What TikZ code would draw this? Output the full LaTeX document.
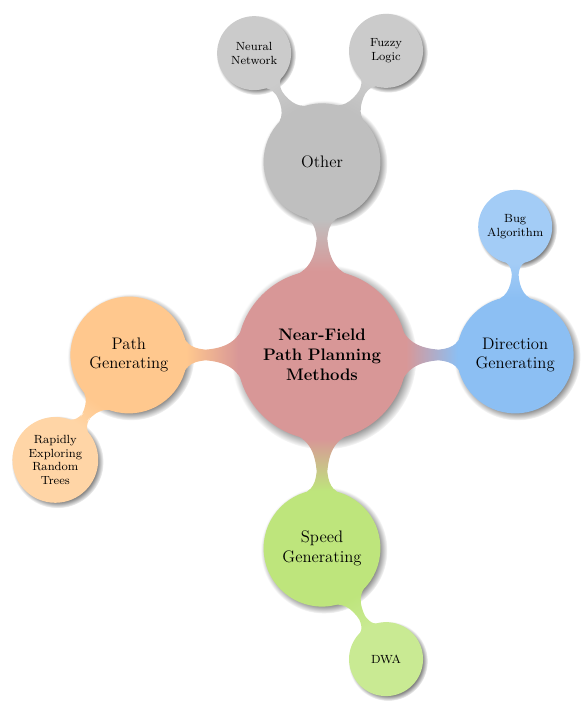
\documentclass[tikz,border=0pt]{standalone}
\usetikzlibrary{mindmap,shadows}
\definecolor{rootc}{HTML}{D89797}
\definecolor{otherc}{HTML}{BFBFBF}
\definecolor{otherl}{HTML}{CBCBCB}
\definecolor{dirc}{HTML}{8CBFF3}
\definecolor{dirl}{HTML}{A3CCF6}
\definecolor{pathc}{HTML}{FFC88E}
\definecolor{pathl}{HTML}{FFD5A6}
\definecolor{speedc}{HTML}{BEE57C}
\definecolor{speedl}{HTML}{C9EA93}
\begin{document}
\begin{tikzpicture}[mindmap,
  every node/.style={concept, circular drop shadow},
  rootnode/.style={minimum size=4cm, text width=3.6cm, align=center, font=\fontsize{11.3}{13.4}\selectfont\bfseries},
  lvone/.style={minimum size=2.74cm, text width=2.4cm, align=center, font=\fontsize{11.3}{13.4}\selectfont},
  lvtwo/.style={minimum size=1.72cm, text width=1.5cm, align=center, font=\fontsize{8}{9.3}\selectfont},
  level 1/.append style={level distance=4.6cm},
  level 2/.append style={level distance=3.05cm}]
\useasboundingbox (0,0) rectangle (14,-16.929);
\path[concept color=rootc] node (root) [rootnode] at (7.667,-8.452) {Near-Field\\Path Planning\\Methods}
  child[grow=90, concept color=otherc] {node (other) [lvone] {Other}
    child[grow=122, concept color=otherl] {node (nn) [lvtwo] {Neural\\Network}}
    child[grow=60, concept color=otherl] {node (fl) [lvtwo] {Fuzzy\\Logic}}
  }
  child[grow=0, concept color=dirc] {node (dir) [lvone] {Direction\\Generating}
    child[grow=90, concept color=dirl] {node (bug) [lvtwo] {Bug\\Algorithm}}
  }
  child[grow=180, concept color=pathc] {node (path) [lvone] {Path\\Generating}
    child[grow=235, concept color=pathl] {node (rrt) [lvtwo, minimum size=1.88cm] {Rapidly\\Exploring\\Random\\Trees}}
  }
  child[grow=-90, concept color=speedc] {node (speed) [lvone] {Speed\\Generating}
    child[grow=-60, concept color=speedl] {node (dwa) [lvtwo] {DWA}}
  };
\end{tikzpicture}
\end{document}
